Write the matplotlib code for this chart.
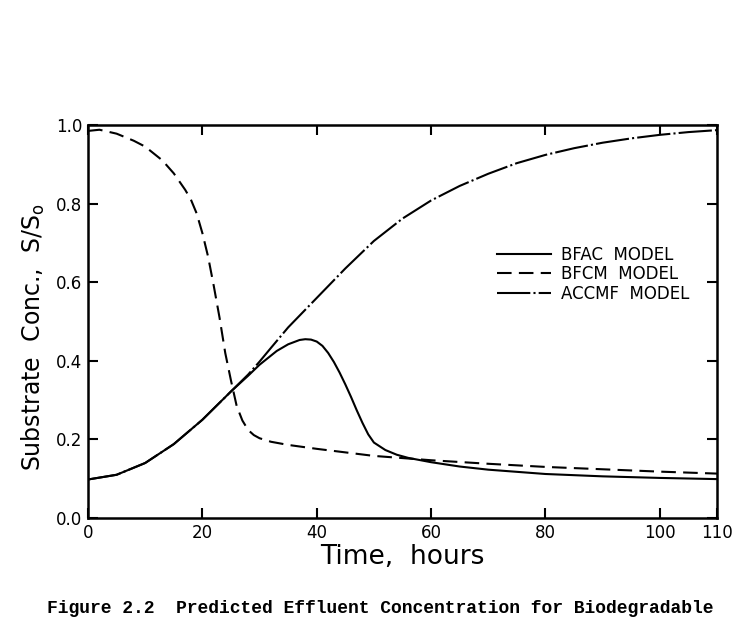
import numpy as np
from matplotlib import pyplot as plt

# values
t_bfac = [0, 5, 10, 15, 20, 25, 28, 30, 33, 35, 37, 38, 39, 40, 41, 42, 43, 44, 45, 46, 47,
          48, 49, 50, 52, 54, 56, 60, 65, 70, 80, 90, 100, 110]
bfac = [0.098, 0.110, 0.140, 0.188, 0.250, 0.322, 0.362, 0.390, 0.425, 0.442, 0.453, 0.455,
        0.454, 0.449, 0.438, 0.420, 0.397, 0.370, 0.340, 0.308, 0.274, 0.242, 0.213, 0.192,
        0.173, 0.161, 0.153, 0.142, 0.131, 0.123, 0.112, 0.106, 0.102, 0.099]

t_bfcm = [0, 2, 5, 8, 10, 13, 15, 17, 18, 19, 20, 21, 22, 23, 24, 25, 26, 27, 28, 29, 30,
          32, 35, 40, 45, 50, 60, 70, 80, 90, 100, 110]
bfcm = [0.985, 0.988, 0.978, 0.960, 0.945, 0.910, 0.877, 0.835, 0.810, 0.775, 0.725, 0.665,
        0.590, 0.510, 0.420, 0.350, 0.285, 0.248, 0.224, 0.211, 0.203, 0.194, 0.186, 0.176,
        0.167, 0.158, 0.147, 0.138, 0.130, 0.124, 0.118, 0.113]

t_accmf = [0, 5, 10, 15, 20, 25, 28, 30, 32, 35, 38, 40, 45, 50, 55, 60, 65, 70, 75, 80, 85,
           90, 95, 100, 105, 110]
accmf = [0.098, 0.110, 0.140, 0.188, 0.250, 0.322, 0.365, 0.398, 0.433, 0.485, 0.530, 0.560,
         0.635, 0.705, 0.762, 0.808, 0.845, 0.876, 0.903, 0.924, 0.941, 0.955, 0.966, 0.975,
         0.982, 0.987]

xticks = [0, 20, 40, 60, 80, 100, 110]
yticks = [0.0, 0.2, 0.4, 0.6, 0.8, 1.0]

fig = plt.figure(figsize=(7.44, 6.18), dpi=100)
ax = fig.add_axes([0.1183, 0.1618, 0.8454, 0.6359])

ax.plot(t_bfac, bfac, color='black', lw=1.5, label='BFAC  MODEL')
ax.plot(t_bfcm, bfcm, color='black', lw=1.5, dashes=(7, 3.5), label='BFCM  MODEL')
ax.plot(t_accmf, accmf, color='black', lw=1.5, dashes=(16, 1.5, 1, 1.5), label='ACCMF  MODEL')

ax.set_xlim(0, 110)
ax.set_ylim(0, 1.0)
ax.set_xticks(xticks)
ax.set_xticklabels([str(v) for v in xticks])
ax.set_yticks(yticks)
ax.set_yticklabels(['%.1f' % v for v in yticks])
ax.tick_params(direction='in', length=7, width=1.5, top=True, right=True,
               labelsize=12, pad=4)
for s in ax.spines.values():
    s.set_linewidth(1.8)

ax.set_xlabel('Time,  hours', fontsize=19, labelpad=2)
ax.set_ylabel('Substrate  Conc.,  S/S$_\\mathregular{o}$', fontsize=17)
ax.yaxis.set_label_coords(-0.066, 0.46)

ax.legend(loc='upper left', bbox_to_anchor=(0.64, 0.71), frameon=False, fontsize=12,
          handlelength=3.2, handletextpad=0.6, labelspacing=0.1, borderaxespad=0)

fig.text(0.063, 1 - 613 / 618, 'Figure 2.2  Predicted Effluent Concentration for Biodegradable',
         family='Liberation Mono', fontweight='bold', fontsize=13, va='baseline', ha='left')

fig.savefig('out.png', dpi=100)
